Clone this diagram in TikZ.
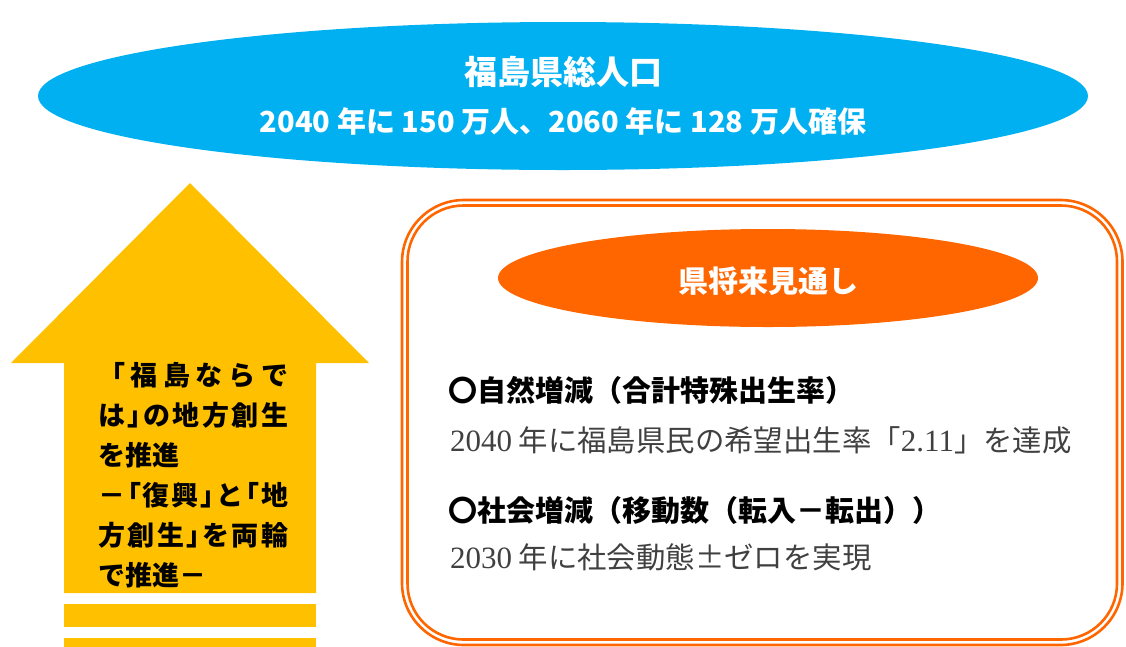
\documentclass[tikz,border=0pt]{standalone}
\usepackage{fontspec}
\usetikzlibrary{shapes.geometric}
\newfontfamily\jp{Noto Sans CJK JP}
\newfontfamily\jpp[RawFeature=+palt]{Noto Sans CJK JP}
\newfontfamily\lser{Liberation Serif}
\newcommand{\pb}[1]{{\jpp\bfseries #1}}
\newcommand{\spreadline}[1]{\makebox[190pt][s]{#1}}
\definecolor{skyb}{HTML}{00B0F0}
\definecolor{orng}{HTML}{FF6600}
\definecolor{gold}{HTML}{FFC000}
\definecolor{txtgray}{HTML}{404040}
\tikzset{
  oval/.style={ellipse, fill=#1, draw=none, inner sep=0pt},
  whitetitle/.style={text=white, inner sep=0pt, font=\jp\bfseries\fontsize{#1}{#1}\selectfont},
  arrowtxt/.style={anchor=base west, inner sep=0pt, text=black, font=\jp\bfseries\fontsize{27}{27}\selectfont},
  headtxt/.style={anchor=base west, inner sep=0pt, text=black, font=\jp\bfseries\fontsize{29}{29}\selectfont},
  bodytxt/.style={anchor=base west, inner sep=0pt, text=txtgray, font=\jp\fontsize{29.4}{29.4}\selectfont},
  panelline/.style={draw=orng, line width=2.6pt}
}
\newcommand{\dg}[1]{{\lser\fontsize{31}{31}\selectfont #1}}
\begin{document}
\begin{tikzpicture}[x=1pt,y=-1pt]
\useasboundingbox (0,0) rectangle (1126,646);
% top ellipse
\node[oval=skyb, minimum width=1050pt, minimum height=148pt] (total) at (563,96) {};
\node[whitetitle=33] (t1) at (563,72) {福島県総人口};
\node[whitetitle=29] (t2) at (563,121) {2040 年に 150 万人、2060 年に 128 万人確保};
% arrow
\fill[gold] (190,183) -- (369,363) -- (316,363) -- (316,593) -- (64,593) -- (64,363) -- (11,363) -- cycle;
\fill[gold] (64,604) rectangle (316,627);
\fill[gold] (64,638) rectangle (316,650);
\node[arrowtxt] (a1) at (98,385) {\spreadline{「\hfill 福\hfill 島\hfill な\hfill ら\hfill で}};
\node[arrowtxt] (a2) at (98,425) {\spreadline{は\hfill \pb{」}\hfill の\hfill 地\hfill 方\hfill 創\hfill 生}};
\node[arrowtxt] (a3) at (98,465) {を推進};
\node[arrowtxt] (a4) at (98,505) {\spreadline{－\hfill \pb{「}\hfill 復\hfill 興\hfill \pb{」}\hfill と\hfill \pb{「}\hfill 地}};
\node[arrowtxt] (a5) at (98,545) {\spreadline{方\hfill 創\hfill 生\hfill \pb{」}\hfill を\hfill 両\hfill 輪}};
\node[arrowtxt] (a6) at (98,585) {で推進－};
% panel
\draw[panelline, rounded corners=62pt] (402,200) rectangle (1122.5,645);
\draw[panelline, rounded corners=56pt] (407.5,205.5) rectangle (1117,639.5);
\node[oval=orng, minimum width=540pt, minimum height=98pt] (future) at (768,278) {};
\node[whitetitle=30] (ft) at (768,281) {県将来見通し};
\node[headtxt] (h1) at (448,401) {〇自然増減（合計特殊出生率）};
\node[bodytxt] (b1) at (450,451) {\dg{2040} 年に福島県民の希望出生率「\dg{2.11}」を達成};
\node[headtxt] (h2) at (448,521) {〇社会増減（移動数（転入－転出））};
\node[bodytxt] (b2) at (450,568) {\dg{2030} 年に社会動態±ゼロを実現};
\end{tikzpicture}
\end{document}
